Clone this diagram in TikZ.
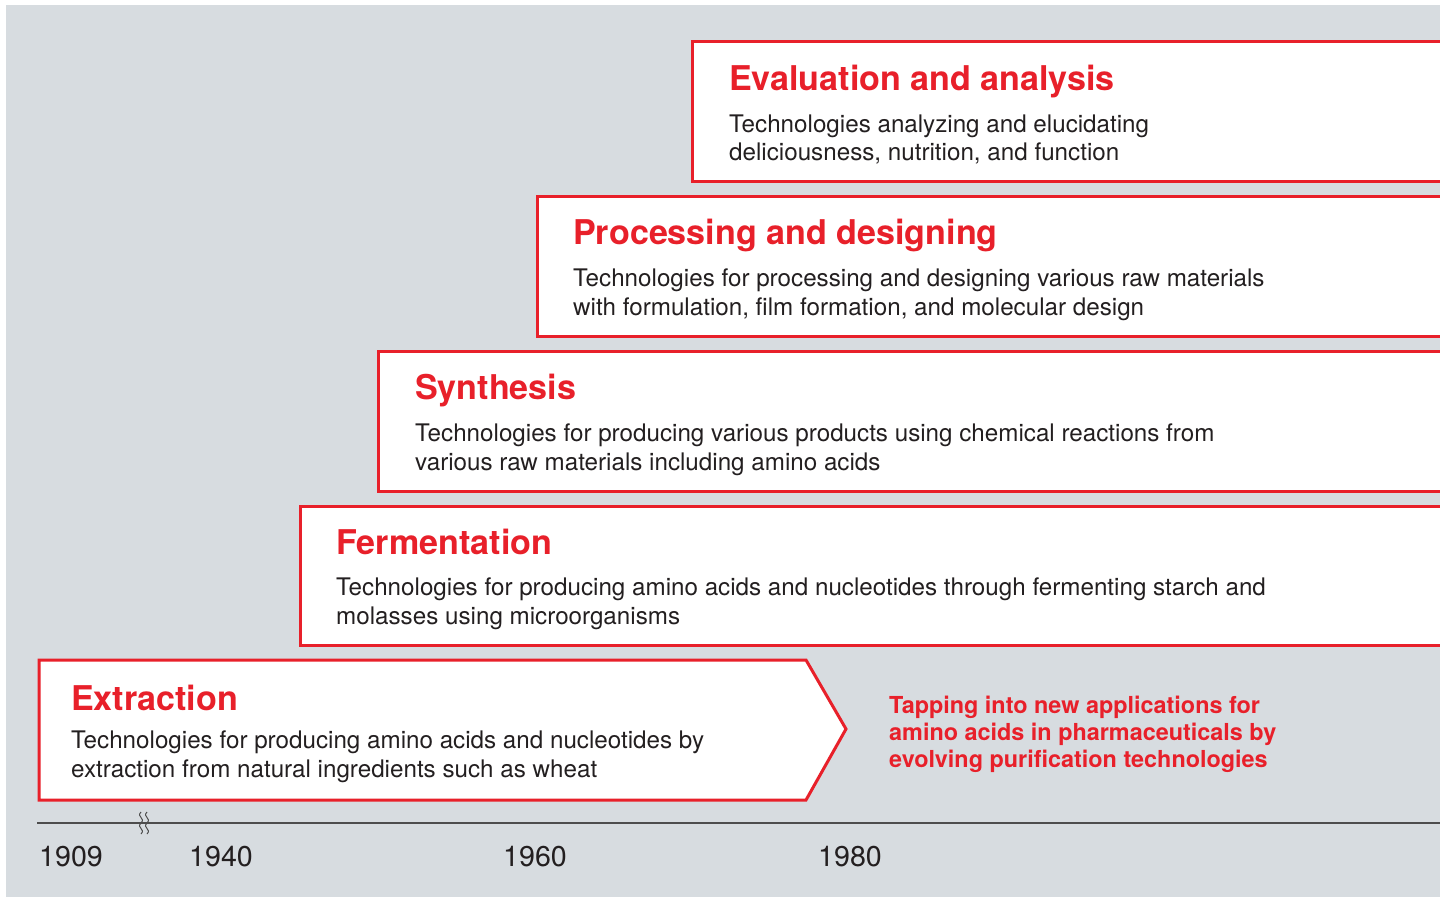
\documentclass[tikz,border=0pt]{standalone}
\usepackage{fontspec}
\setmainfont{TeX Gyre Heros}
\definecolor{techred}{HTML}{E8202A}
\definecolor{techgray}{HTML}{D7DCE0}
\definecolor{techink}{HTML}{231F20}
\definecolor{techline}{HTML}{4D4D4D}
\begin{document}
\begin{tikzpicture}[x=1pt,y=-1pt,
   box/.style={draw=techred, fill=white, line width=3pt, line join=miter},
   title/.style={anchor=base west, inner sep=0pt, text=techred, font=\fontsize{34.1}{36}\selectfont\bfseries},
   body/.style={anchor=base west, inner sep=0pt, text=techink, align=left, font=\fontsize{24.2}{28.5}\selectfont},
   year/.style={anchor=base west, inner sep=0pt, text=techink, font=\fontsize{28.6}{30}\selectfont}]
   \useasboundingbox (0,0) rectangle (1440,899);
   \clip (0,0) rectangle (1440,899);
   \fill[techgray] (6,5) rectangle (1445,897);

   \draw[box] (692,42) rectangle (1460,181);
   \node[title] (evaltitle) at (729,90) {Evaluation and analysis};
   \node[body] (evaltext) at (729,160.5) {Technologies analyzing and elucidating\\deliciousness, nutrition, and function};

   \draw[box] (537,196) rectangle (1460,336);
   \node[title] (proctitle) at (573,244) {Processing and designing};
   \node[body] (proctext) at (573,315) {Technologies for processing and designing various raw materials\\with formulation, film formation, and molecular design};

   \draw[box] (378,351) rectangle (1460,491);
   \node[title] (synthtitle) at (415,399) {Synthesis};
   \node[body] (synthtext) at (415,470) {Technologies for producing various products using chemical reactions from\\various raw materials including amino acids};

   \draw[box] (300,506) rectangle (1460,645);
   \node[title] (fermtitle) at (336,554) {Fermentation};
   \node[body] (fermtext) at (336,624) {Technologies for producing amino acids and nucleotides through fermenting starch and\\molasses using microorganisms};

   \draw[box] (39,660) -- (806,660) -- (846,729) -- (806,800) -- (39,800) -- cycle;
   \node[title] (extrtitle) at (71,710) {Extraction};
   \node[body] (extrtext) at (71,777) {Technologies for producing amino acids and nucleotides by\\extraction from natural ingredients such as wheat};

   \node[anchor=base west, inner sep=0pt, text=techred, align=left,
      font=\fontsize{23.4}{26.8}\selectfont\bfseries] (tapping) at (889,767)
      {Tapping into new applications for\\amino acids in pharmaceuticals by\\evolving purification technologies};

   \coordinate (axisstart) at (37,823);
   \coordinate (axisend) at (1445,823);
   \draw[techline, line width=1.3pt] (axisstart) -- (axisend);
   \draw[techline, line width=1pt] (141,812) .. controls (136,817) and (146,818) .. (141,823)
      .. controls (136,828) and (146,829) .. (141,834);
   \draw[techline, line width=1pt] (147,812) .. controls (142,817) and (152,818) .. (147,823)
      .. controls (142,828) and (152,829) .. (147,834);

   \node[year] (y1909) at (39,866) {1909};
   \node[year] (y1940) at (189,866) {1940};
   \node[year] (y1960) at (503,866) {1960};
   \node[year] (y1980) at (818,866) {1980};
\end{tikzpicture}
\end{document}
